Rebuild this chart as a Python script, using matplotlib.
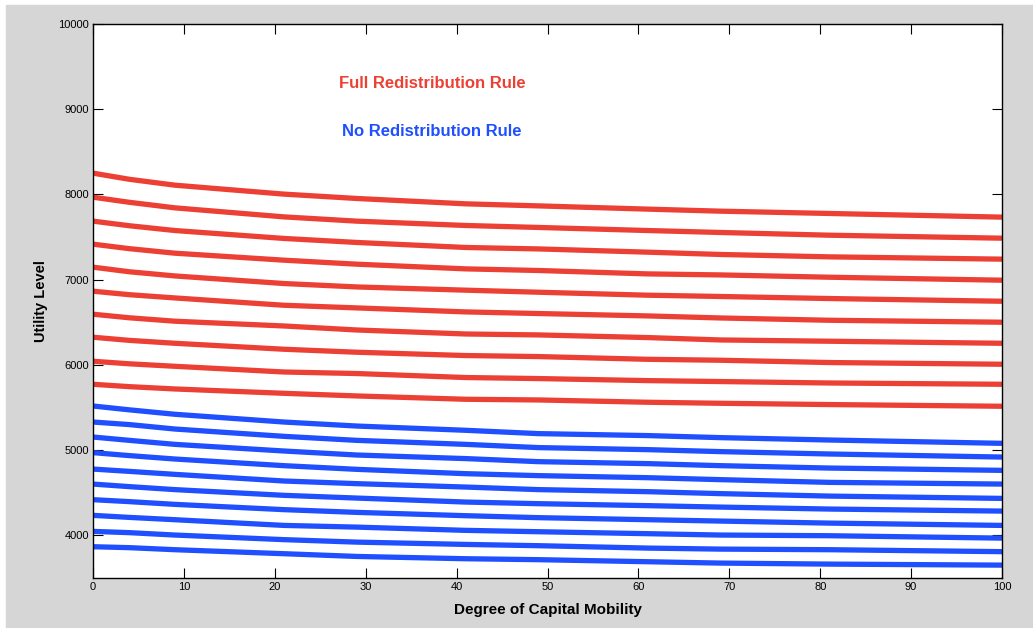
"""
Utility level versus degree of capital mobility under two redistribution rules.
"""

import matplotlib.pyplot as plt
from matplotlib.patches import Rectangle

# Degree of capital mobility where the curves were sampled
mobility = [0, 4, 9, 21, 29, 41, 49, 61, 69, 81, 100]

# Full redistribution rule, one list per curve (top to bottom)
full_1 = [8250, 8178, 8109, 8004, 7953, 7890, 7866, 7828, 7804, 7777, 7734]
full_2 = [7968, 7908, 7843, 7737, 7687, 7636, 7613, 7577, 7554, 7522, 7487]
full_3 = [7687, 7633, 7577, 7484, 7437, 7378, 7361, 7323, 7296, 7268, 7241]
full_4 = [7417, 7364, 7311, 7229, 7182, 7127, 7108, 7068, 7056, 7029, 6994]
full_5 = [7147, 7093, 7044, 6955, 6915, 6877, 6853, 6818, 6803, 6779, 6747]
full_6 = [6865, 6824, 6786, 6700, 6669, 6622, 6603, 6575, 6551, 6524, 6501]
full_7 = [6595, 6553, 6513, 6457, 6410, 6363, 6352, 6321, 6293, 6278, 6254]
full_8 = [6325, 6288, 6254, 6184, 6149, 6110, 6098, 6066, 6055, 6028, 6008]
full_9 = [6043, 6013, 5984, 5917, 5899, 5852, 5840, 5816, 5805, 5788, 5773]
full_10 = [5773, 5745, 5718, 5667, 5636, 5597, 5589, 5562, 5550, 5535, 5515]

# No redistribution rule
none_1 = [5518, 5473, 5421, 5330, 5283, 5233, 5194, 5171, 5147, 5119, 5080]
none_2 = [5330, 5300, 5248, 5162, 5115, 5068, 5030, 5006, 4983, 4955, 4919]
none_3 = [5154, 5115, 5068, 4990, 4943, 4901, 4865, 4842, 4818, 4790, 4763]
none_4 = [4971, 4936, 4896, 4818, 4775, 4724, 4701, 4677, 4654, 4622, 4602]
none_5 = [4778, 4751, 4716, 4638, 4607, 4567, 4537, 4513, 4490, 4461, 4434]
none_6 = [4602, 4572, 4537, 4470, 4438, 4391, 4372, 4349, 4332, 4309, 4285]
none_7 = [4419, 4396, 4364, 4302, 4270, 4231, 4208, 4184, 4168, 4144, 4117]
none_8 = [4235, 4211, 4184, 4117, 4097, 4059, 4043, 4020, 4004, 3996, 3968]
none_9 = [4047, 4032, 4004, 3950, 3921, 3894, 3879, 3851, 3839, 3832, 3809]
none_10 = [3867, 3856, 3832, 3785, 3753, 3726, 3715, 3691, 3675, 3663, 3651]

full_curves = [full_1, full_2, full_3, full_4, full_5,
               full_6, full_7, full_8, full_9, full_10]
none_curves = [none_1, none_2, none_3, none_4, none_5,
               none_6, none_7, none_8, none_9, none_10]

x_ticks = [0, 10, 20, 30, 40, 50, 60, 70, 80, 90, 100]
y_ticks = [4000, 5000, 6000, 7000, 8000, 9000, 10000]

RED = '#ed4034'
BLUE = '#1f4fff'

plt.rcParams['font.family'] = ['Liberation Sans', 'DejaVu Sans']

fig = plt.figure(figsize=(10.33, 6.28), dpi=100)
fig.patch.set_facecolor('white')
# gray window background
fig.patches.append(Rectangle((6 / 1033, 0), 1 - 6 / 1033, 1 - 5 / 628,
                             transform=fig.transFigure, color='#d6d6d6',
                             zorder=-10))

ax = fig.add_axes([93 / 1033, 1 - 578 / 628, 909 / 1033, 554 / 628])
ax.set_facecolor('white')

for values in full_curves:
    ax.plot(mobility, values, color=RED, linewidth=3.8, solid_capstyle='butt')
for values in none_curves:
    ax.plot(mobility, values, color=BLUE, linewidth=3.8, solid_capstyle='butt')

ax.set_xlim(0, 100)
ax.set_ylim(3500, 10000)
ax.set_xticks(x_ticks)
ax.set_yticks(y_ticks)
ax.tick_params(direction='in', length=7, width=0.8, labelsize=8,
               top=True, right=True, pad=3)
for spine in ax.spines.values():
    spine.set_linewidth(1.0)

ax.text(0.373, 0.893, 'Full Redistribution Rule', transform=ax.transAxes,
        color=RED, fontsize=12, fontweight='bold', ha='center', va='center')
ax.text(0.373, 0.806, 'No Redistribution Rule', transform=ax.transAxes,
        color=BLUE, fontsize=12, fontweight='bold', ha='center', va='center')

ax.set_xlabel('Degree of Capital Mobility', fontsize=11, fontweight='bold',
              labelpad=8)
ax.set_ylabel('Utility Level', fontsize=10.5, fontweight='bold', labelpad=7)

fig.savefig('out.png', dpi=100, facecolor=fig.get_facecolor())
